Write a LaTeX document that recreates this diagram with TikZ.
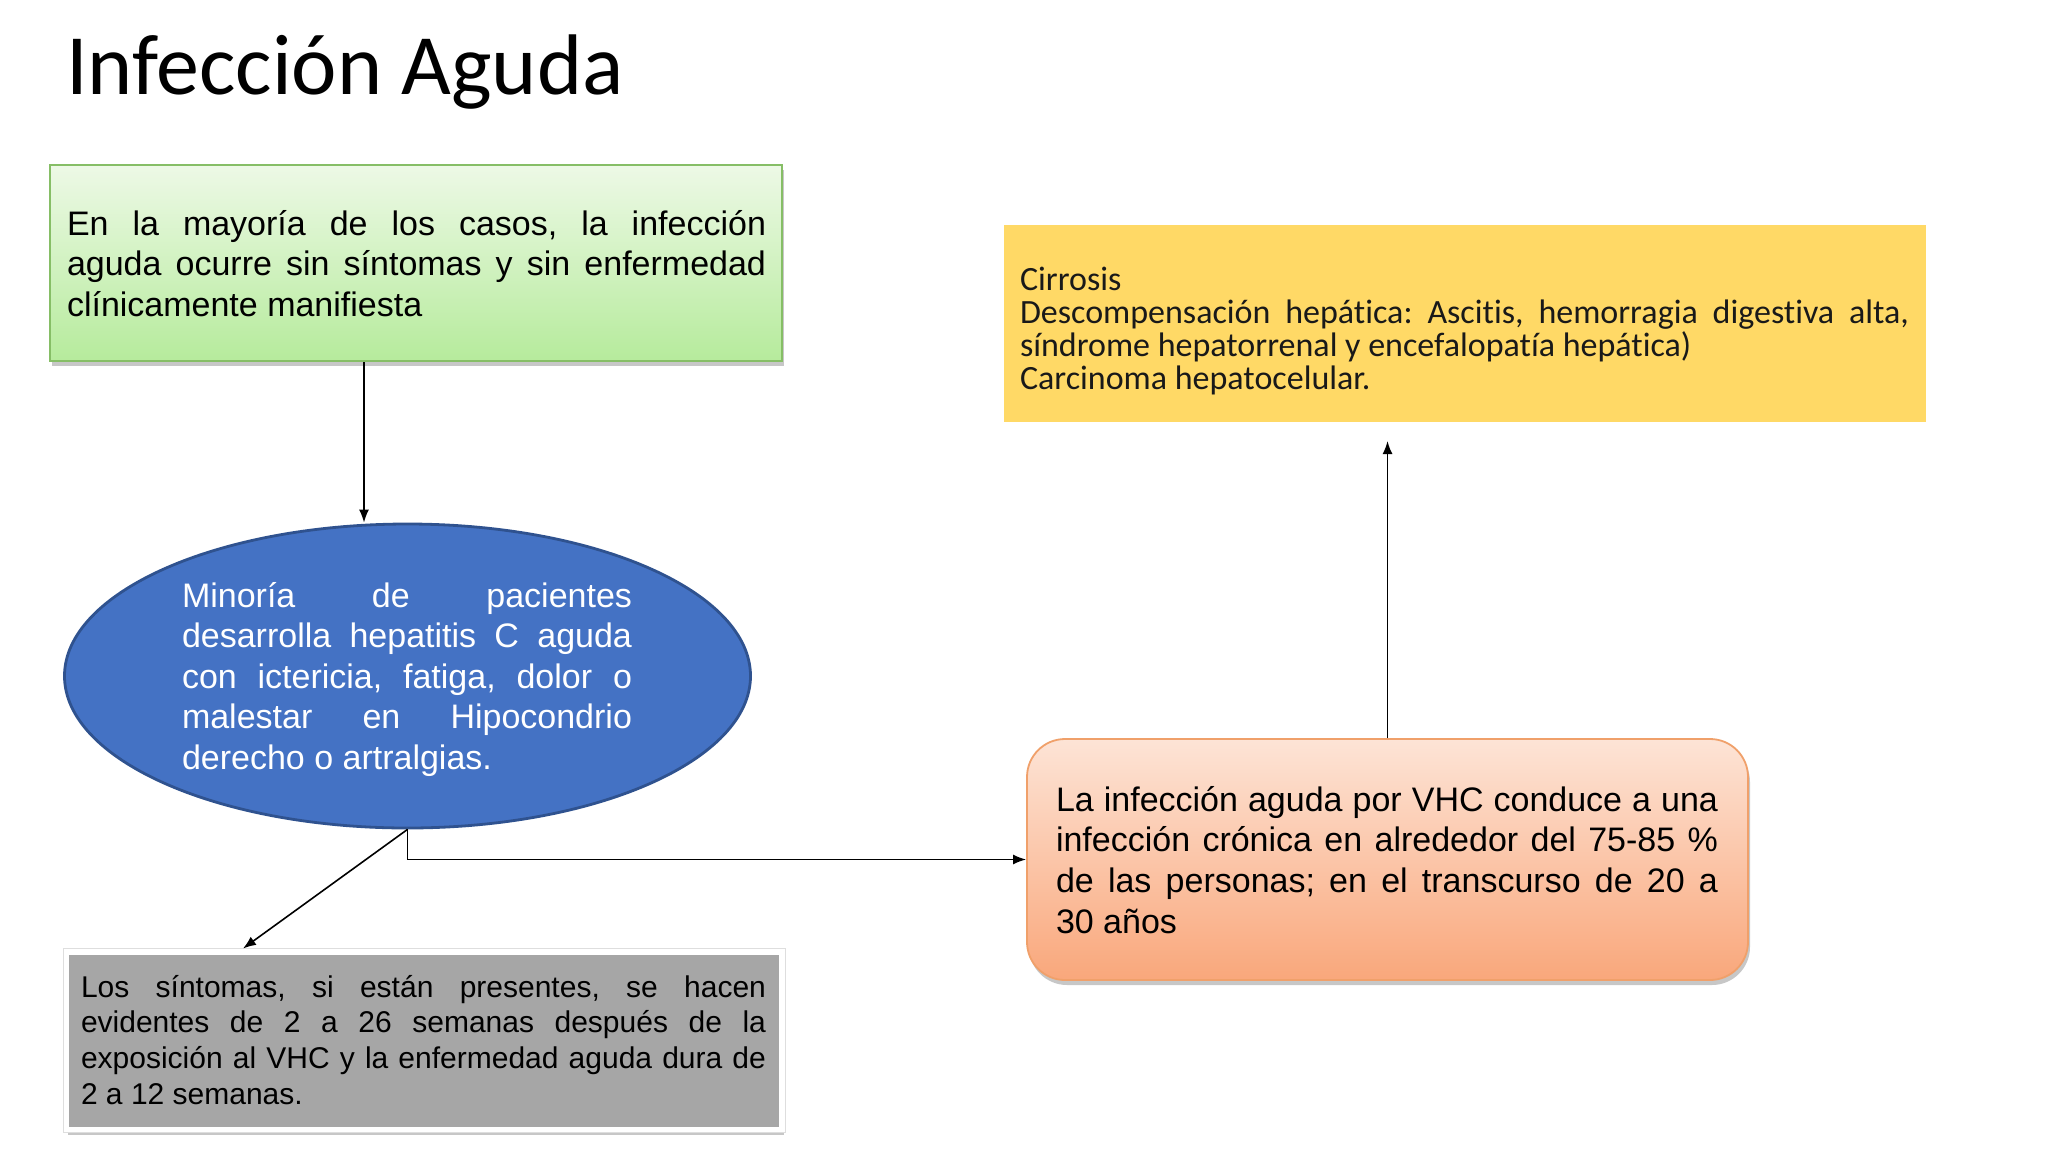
\documentclass[tikz,border=0pt]{standalone}
\usepackage{fontspec}
\setmainfont{Liberation Sans}
\newfontfamily\carlito[Ligatures=NoCommon]{Carlito}
\usetikzlibrary{arrows.meta,shapes.geometric,shadows}
\frenchspacing
\definecolor{gtop}{HTML}{EDF9E6}
\definecolor{gbot}{HTML}{B6EB9C}
\definecolor{gbord}{HTML}{86BE66}
\definecolor{efill}{HTML}{4472C4}
\definecolor{ebord}{HTML}{2F528F}
\definecolor{yfill}{HTML}{FFD966}
\definecolor{otop}{HTML}{FDE4D6}
\definecolor{obot}{HTML}{F9A77B}
\definecolor{obord}{HTML}{F0A06A}
\definecolor{grfill}{HTML}{A6A6A6}
\newcommand\JLine[2]{\hbox to #1{#2}}
\tikzset{
  arr/.style={line width=1.6pt, -{Latex[length=13pt,width=10pt]}},
  txt/.style={anchor=base west, inner sep=0pt, outer sep=0pt},
  shd/.style={drop shadow={shadow xshift=2pt, shadow yshift=-5pt, opacity=0.22, fill=black}},
}
\begin{document}
\begin{tikzpicture}[x=1pt,y=-1pt]
\useasboundingbox[fill=white] (0,0) rectangle (2048,1152);
% title
\node[txt] (title) at (66,94) {\carlito\fontsize{86pt}{100pt}\selectfont Infección Aguda};
% green box
\node[shd, draw=gbord, line width=2pt, top color=gtop, bottom color=gbot,
      minimum width=732pt, minimum height=196pt, inner sep=0pt] (green) at (416,263) {};
\node[txt] (gt) at (67,235) {\fontsize{34pt}{40.5pt}\selectfont\vtop{%
\JLine{699pt}{En la mayoría de los casos, la infección}
\JLine{699pt}{aguda ocurre sin síntomas y sin enfermedad}
\hbox{clínicamente manifiesta}}};
% ellipse
\node[ellipse, fill=efill, draw=ebord, line width=2.8pt,
      minimum width=686pt, minimum height=304pt, inner sep=0pt] (ell) at (407.5,676) {};
\node[txt, text=white] (et) at (182,607) {\fontsize{34pt}{40.5pt}\selectfont\vtop{%
\JLine{450pt}{Minoría de pacientes}
\JLine{450pt}{desarrolla hepatitis C aguda}
\JLine{450pt}{con ictericia, fatiga, dolor o}
\JLine{450pt}{malestar en Hipocondrio}
\hbox{derecho o artralgias.}}};
% yellow box
\node[fill=yfill, minimum width=922pt, minimum height=197pt, inner sep=0pt] (yellow) at (1465,323.5) {};
\node[txt, text=black!90] (yt) at (1020,290) {\carlito\fontsize{34pt}{33pt}\selectfont\vtop{%
\hbox{Cirrosis}
\JLine{889pt}{Descompensación hepática: Ascitis, hemorragia digestiva alta,}
\hbox{síndrome hepatorrenal y encefalopatía hepática)}
\hbox{Carcinoma hepatocelular.}}};
% orange box
\node[shd, draw=obord, line width=1.8pt, rounded corners=38pt, top color=otop, bottom color=obot,
      minimum width=721pt, minimum height=241pt, inner sep=0pt] (orange) at (1387.5,859.5) {};
\node[txt] (ot) at (1056,811) {\fontsize{34pt}{40.7pt}\selectfont\vtop{%
\JLine{662pt}{La infección aguda por VHC conduce a una}
\JLine{662pt}{infección crónica en alrededor del 75-85 \%}
\JLine{662pt}{de las personas; en el transcurso de 20 a}
\hbox{30 años}}};
% gray box
\node[shd, fill=grfill, draw=white, line width=6pt,
      minimum width=716pt, minimum height=178pt, inner sep=0pt] (gray) at (424,1040.5) {};
\draw[black!13, line width=1pt] (gray.north west) rectangle (gray.south east);
\node[txt] (grt) at (81,997) {\fontsize{30pt}{35.7pt}\selectfont\vtop{%
\JLine{685pt}{Los síntomas, si están presentes, se hacen}
\JLine{685pt}{evidentes de 2 a 26 semanas después de la}
\JLine{685pt}{exposición al VHC y la enfermedad aguda dura de}
\hbox{2 a 12 semanas.}}};
% connectors
\coordinate (ytip) at (1387.5,441);
\draw[arr] ([xshift=-52pt]green.south) -- ([xshift=-52pt]green.south |- ell.north);
\draw[arr] (ell.south) |- (orange.west);
\draw[arr] (ell.south) -- ([xshift=-181pt]gray.north);
\draw[arr] (orange.north) -- (ytip);
\end{tikzpicture}
\end{document}
